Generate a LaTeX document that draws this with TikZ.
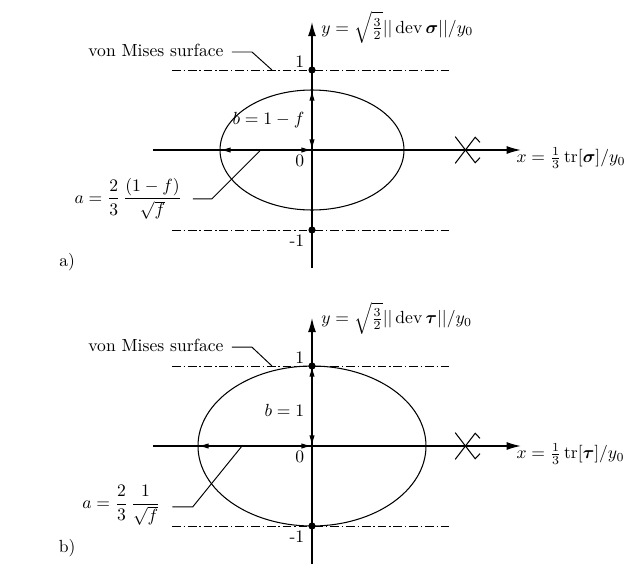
\documentclass[tikz,border=0pt]{standalone}
\usepackage{amsmath,amssymb,bm}
\usetikzlibrary{arrows.meta}

\begin{document}
\begin{tikzpicture}[x=1.6cm, y=1.6cm, line width=0.6pt,
    axis/.style={-{Latex[length=8pt,width=4.5pt]}, line width=0.7pt},
    dimline/.style={{Latex[length=6pt,width=3pt]}-{Latex[length=6pt,width=3pt]}, line width=0.7pt},
    surface/.style={dash pattern=on 5pt off 1.6pt on 0.8pt off 1.6pt, line width=0.5pt},
    leader/.style={line width=0.55pt},
    lbl/.style={inner sep=0pt}]
    \useasboundingbox (-3.9,-5.3) rectangle (3.9125,1.875);

    % a) stress space sigma
    \begin{scope}
        \coordinate (Oa) at (0,0);
        \coordinate (xLa) at (-1.99,0);
        \coordinate (xRa) at (2.61,0);
        \coordinate (yBa) at (0,-1.475);
        \coordinate (yTa) at (0,1.6);
        \draw[axis] (xLa) -- (xRa);
        \draw[axis] (yBa) -- (yTa);
        \draw[surface] (-1.75,1) -- (1.71,1);
        \draw[surface] (-1.75,-1) -- (1.71,-1);
        \fill (0,1) circle (0.045);
        \fill (0,-1) circle (0.045);
        \draw (Oa) ellipse [x radius=1.15, y radius=0.75];
        % break mark
        \draw (1.79,-0.167) -- (2.04,0.159) -- (2.10,0.096);
        \draw (1.79,0.167) -- (2.04,-0.159) -- (2.10,-0.096);
        \coordinate (aEa) at (-1.15,0);
        \coordinate (bEa) at (0,0.75);
        \draw[dimline] (Oa) -- (aEa);
        \draw[dimline] (Oa) -- (bEa);
        \node[lbl, anchor=north east] (zeroA) at (-0.09,-0.05) {0};
        \node[lbl, anchor=south east] (oneA) at (-0.09,1.03) {1};
        \node[lbl, anchor=north east] (moneA) at (-0.09,-1.05) {-1};
        \node[lbl, anchor=west] (xlabA) at (2.55,-0.1) {$x = \frac{1}{3}\,\mathrm{tr}[\bm{\sigma}]/y_0$};
        \node[lbl, anchor=west] (ylabA) at (0.11,1.53) {$y = \sqrt{\tfrac{3}{2}}||\,\mathrm{dev}\,\bm{\sigma}||/y_0$};
        \node[lbl, anchor=east] (bLabA) at (-0.09,0.37) {$b = 1 - f$};
        \node[lbl, anchor=east] (aLabA) at (-1.62,-0.61) {$a = \dfrac{2}{3}\,\dfrac{(1-f)}{\sqrt{f}}$};
        \node[lbl, anchor=east] (vmA) at (-1.1,1.25) {von Mises surface};
        \coordinate (vmBendA) at (-0.75,1.225);
        \coordinate (vmFootA) at (-0.5,1);
        \coordinate (aBendA) at (-1.25,-0.61);
        \coordinate (aFootA) at (-0.64,0);
        \draw[leader] ([shift={(0.1,-0.025)}]vmA.east) -- (vmBendA) -- (vmFootA);
        \draw[leader] ([xshift=6pt]aLabA.east) -- (aBendA) -- (aFootA);
        \node (tagA) at (-3.06,-1.4) {a)};
    \end{scope}

    % b) stress space tau
    \begin{scope}[shift={(0,-3.7)}]
        \coordinate (Ob) at (0,0);
        \coordinate (xLb) at (-1.99,0);
        \coordinate (xRb) at (2.61,0);
        \coordinate (yBb) at (0,-1.475);
        \coordinate (yTb) at (0,1.6);
        \draw[axis] (xLb) -- (xRb);
        \draw[axis] (yBb) -- (yTb);
        \draw[surface] (-1.75,1) -- (1.71,1);
        \draw[surface] (-1.75,-1) -- (1.71,-1);
        \fill (0,1) circle (0.045);
        \fill (0,-1) circle (0.045);
        \draw (Ob) ellipse [x radius=1.425, y radius=1];
        % break mark
        \draw (1.79,-0.167) -- (2.04,0.159) -- (2.10,0.096);
        \draw (1.79,0.167) -- (2.04,-0.159) -- (2.10,-0.096);
        \coordinate (aEb) at (-1.425,0);
        \coordinate (bEb) at (0,1);
        \draw[dimline] (Ob) -- (aEb);
        \draw[dimline] (Ob) -- (bEb);
        \node[lbl, anchor=north east] (zeroB) at (-0.09,-0.05) {0};
        \node[lbl, anchor=south east] (oneB) at (-0.09,1.03) {1};
        \node[lbl, anchor=north east] (moneB) at (-0.09,-1.05) {-1};
        \node[lbl, anchor=west] (xlabB) at (2.55,-0.1) {$x = \frac{1}{3}\,\mathrm{tr}[\bm{\tau}]/y_0$};
        \node[lbl, anchor=west] (ylabB) at (0.11,1.6) {$y = \sqrt{\tfrac{3}{2}}||\,\mathrm{dev}\,\bm{\tau}||/y_0$};
        \node[lbl, anchor=east] (bLabB) at (-0.09,0.44) {$b = 1$};
        \node[lbl, anchor=east] (aLabB) at (-1.89,-0.74) {$a = \dfrac{2}{3}\,\dfrac{1}{\sqrt{f}}$};
        \node[lbl, anchor=east] (vmB) at (-1.1,1.26) {von Mises surface};
        \coordinate (vmBendB) at (-0.75,1.235);
        \coordinate (vmFootB) at (-0.5,1);
        \coordinate (aBendB) at (-1.49,-0.76);
        \coordinate (aFootB) at (-0.875,0);
        \draw[leader] ([shift={(0.1,-0.025)}]vmB.east) -- (vmBendB) -- (vmFootB);
        \draw[leader] ([shift={(0.145,-0.02)}]aLabB.east) -- (aBendB) -- (aFootB);
        \node (tagB) at (-3.06,-1.275) {b)};
    \end{scope}
\end{tikzpicture}
\end{document}
